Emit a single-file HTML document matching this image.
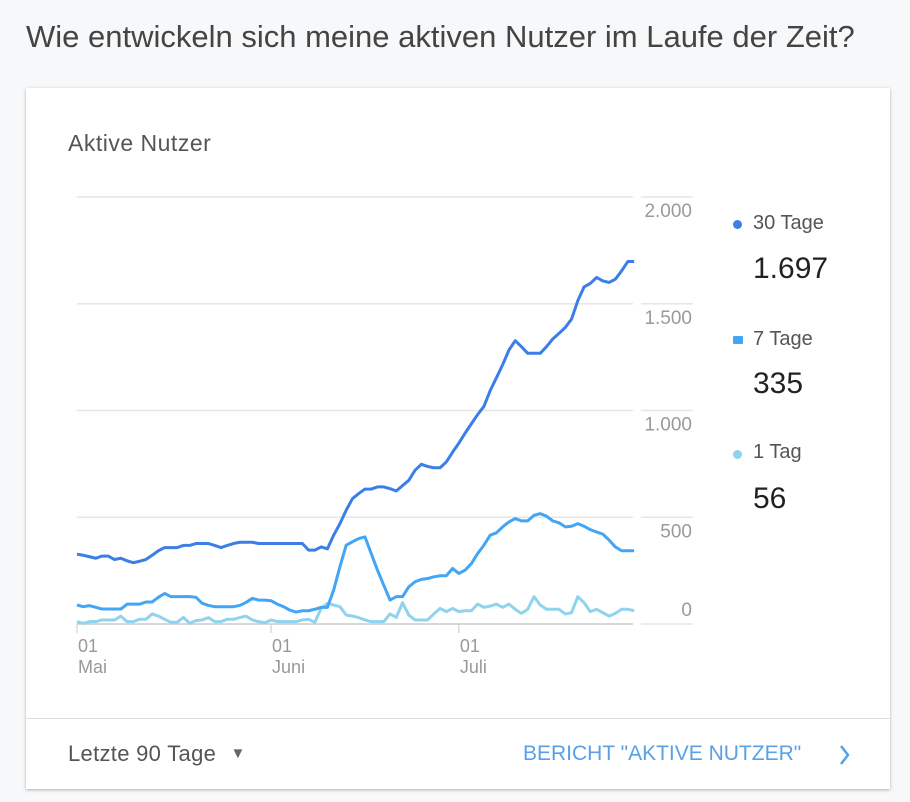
<!DOCTYPE html>
<html><head><meta charset="utf-8"><style>
body{margin:0;width:910px;height:802px;background:#f7f8f9;font-family:"Liberation Sans",sans-serif;position:relative;overflow:hidden}
.t{position:absolute;white-space:nowrap}
</style></head><body>
<div class="t" style="left:26px;top:19px;font-size:31px;color:#444">Wie entwickeln sich meine aktiven Nutzer im Laufe der Zeit?</div>
<div style="position:absolute;left:26px;top:88px;width:864px;height:701px;background:#fff;box-shadow:0 1px 3px rgba(0,0,0,0.3)"></div>
<div class="t" style="left:68px;top:130px;font-size:23px;color:#555;letter-spacing:0.5px">Aktive Nutzer</div>
<svg id="chart" style="position:absolute;left:0;top:0" width="910" height="802"></svg>
<div style="position:absolute;left:26px;top:718px;width:864px;height:1px;background:#ddd"></div>
<div class="t" style="left:68px;top:741px;font-size:22px;color:#555;letter-spacing:0.3px">Letzte 90 Tage <span style="font-size:15px;color:#666;position:relative;top:-3px;margin-left:8px">▼</span></div>
<div class="t" style="left:523px;top:742px;font-size:21px;color:#5aa0e6">BERICHT "AKTIVE NUTZER"</div>
<svg style="position:absolute;left:838px;top:743px" width="14" height="24"><path d="M3 3 L10 12 L3 21" stroke="#5aa0e6" stroke-width="2.5" fill="none"/></svg>
<div>
<div class="t" style="left:733px;top:220px;width:9px;height:9px;border-radius:50%;background:#3b7ee8"></div>
<div class="t" style="left:753px;top:212px;font-size:20px;color:#555">30 Tage</div>
<div class="t" style="left:753px;top:252px;font-size:30px;color:#222">1.697</div></div>
<div>
<div class="t" style="left:733px;top:336px;width:10px;height:8px;border-radius:1px;background:#42a5f5"></div>
<div class="t" style="left:753px;top:328px;font-size:20px;color:#555">7 Tage</div>
<div class="t" style="left:753px;top:367px;font-size:30px;color:#222">335</div></div>
<div>
<div class="t" style="left:733px;top:450px;width:9px;height:9px;border-radius:50%;background:#8fd3ee"></div>
<div class="t" style="left:753px;top:441px;font-size:20px;color:#555">1 Tag</div>
<div class="t" style="left:753px;top:482px;font-size:30px;color:#222">56</div></div>
<script>
const yTicks=[0,500,1000,1500,2000];
const yTickLabels=["0","500","1.000","1.500","2.000"];
const xTickDays=[0,31,61];
const xTickLabels=[["01","Mai"],["01","Juni"],["01","Juli"]];
const series30=[327,322,315,308,318,318,302,308,296,287,294,302,322,343,358,358,358,368,368,377,377,377,368,358,368,377,383,383,383,377,377,377,377,377,377,377,377,346,346,361,352,416,470,533,587,611,632,632,642,642,634,623,648,673,720,748,738,732,732,759,805,847,894,938,981,1019,1093,1153,1215,1283,1327,1299,1268,1268,1268,1299,1335,1361,1389,1428,1514,1579,1595,1623,1607,1600,1615,1654,1698,1698];
const series7=[89,81,86,78,70,70,70,70,93,93,93,103,103,125,143,128,128,128,128,125,97,87,81,81,81,81,87,101,120,112,112,109,93,81,65,56,62,62,69,78,78,159,268,369,385,400,408,330,252,182,112,128,128,174,198,209,213,221,226,226,260,237,252,283,330,369,416,427,455,478,494,483,483,509,517,505,483,474,455,458,470,458,442,431,421,393,361,343,343,343];
const series1=[11,3,11,11,19,19,19,37,11,11,22,22,47,37,22,8,8,31,3,16,19,30,11,11,22,22,30,37,19,11,6,19,11,11,11,11,19,22,8,73,97,89,81,42,37,30,19,11,11,11,47,31,100,42,19,19,19,47,73,58,73,58,62,62,93,78,84,93,78,93,69,50,69,128,89,69,69,69,47,53,128,100,58,69,53,37,50,69,69,62];
const NS="http://www.w3.org/2000/svg";
const svg=document.getElementById('chart');
const x0=77,dx=6.26,yb=624,yt=197;
const xs=d=>x0+d*dx;
const ys=v=>yb-(v/2000)*(yb-yt);
function mk(t,a){const e=document.createElementNS(NS,t);for(const k in a)e.setAttribute(k,a[k]);svg.appendChild(e);return e;}
yTicks.forEach((v,i)=>{
  const g=mk('line',{x1:77,x2:633,y1:ys(v),y2:ys(v),stroke:v===0?'#ccc':'#e6e6e6','stroke-width':1.5});
  
  
  const g2=mk('line',{x1:641,x2:693,y1:ys(v),y2:ys(v),stroke:'#e6e6e6','stroke-width':1.5});
  
  
  const t=mk('text',{x:692,y:v===0?ys(v)-8:ys(v)+20,'text-anchor':'end','font-size':19,fill:'#9a9a9a','font-family':'Liberation Sans, sans-serif'});
  t.textContent=yTickLabels[i];
  
  
});
xTickDays.forEach((d,i)=>{
  const l=mk('line',{x1:xs(d),x2:xs(d),y1:624,y2:633,stroke:'#ccc','stroke-width':1});
  
  
  const t=mk('text',{x:xs(d)+1,y:652,'font-size':18,fill:'#999','font-family':'Liberation Sans, sans-serif'});
  t.textContent=xTickLabels[i][0];
  
  
  const t2=mk('text',{x:xs(d)+1,y:673,'font-size':18,fill:'#999','font-family':'Liberation Sans, sans-serif'});
  t2.textContent=xTickLabels[i][1];
  
  
});
function line(data,color,name){
  const p=mk('polyline',{points:data.map((v,i)=>xs(i)+','+ys(v)).join(' '),fill:'none',stroke:color,'stroke-width':3,'stroke-linejoin':'round'});
  
  
}
line(series1,'#8fd3ee','series-1-tag');
line(series7,'#42a5f5','series-7-tage');
line(series30,'#3b7ee8','series-30-tage');
</script>
</body></html>
